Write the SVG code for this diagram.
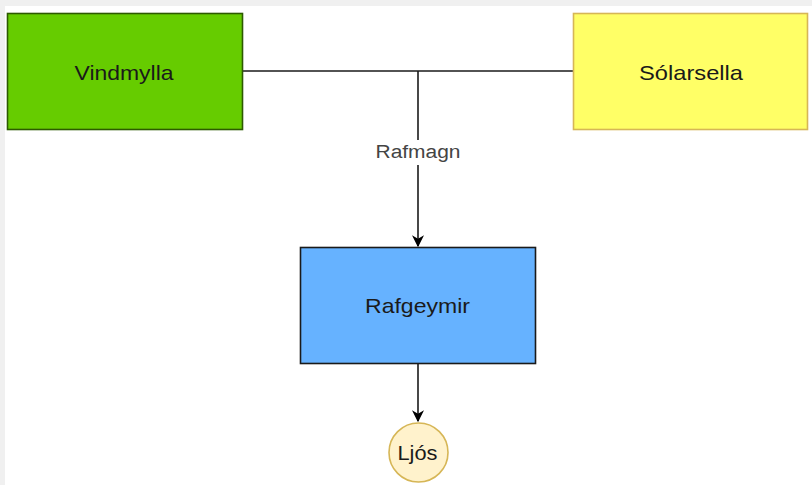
<svg xmlns="http://www.w3.org/2000/svg" width="812" height="485" viewBox="0 0 812 485">
  <style>
    .lbl { font-family: "Liberation Sans", Arial, sans-serif; font-size: 21px; text-anchor: middle; dominant-baseline: central; fill: #1a1a1a; }
    .edge { fill: none; stroke: #1a1a1a; stroke-width: 1.6; }
    .elbl { font-family: "Liberation Sans", Arial, sans-serif; font-size: 18px; text-anchor: middle; dominant-baseline: central; fill: #444444; }
  </style>
  <defs>
    <marker id="arrow" viewBox="0 0 10 10" refX="9" refY="5" markerWidth="13" markerHeight="12" markerUnits="userSpaceOnUse" orient="auto">
      <path d="M0,0 L10,5 L0,10 L3,5 Z" fill="#000000"/>
    </marker>
  </defs>
  <rect x="0" y="0" width="812" height="485" fill="#f0f0f0"/>
  <rect x="5" y="6" width="807" height="479" fill="#ffffff"/>

  <g id="connectors">
    <path class="edge" d="M243,71 L573,71"/>
    <path class="edge" d="M418,71 L418,140"/>
    <path class="edge" d="M418,165 L418,246" marker-end="url(#arrow)"/>
    <text class="elbl" x="418" y="152" textLength="85" lengthAdjust="spacingAndGlyphs">Rafmagn</text>
    <path class="edge" d="M418,364 L418,421" marker-end="url(#arrow)"/>
  </g>

  <g id="vindmylla">
    <rect x="7.5" y="13.5" width="235" height="116" fill="#66cc00" stroke="#2d5a00" stroke-width="1.6"/>
    <text class="lbl" x="124" y="72" textLength="99" lengthAdjust="spacingAndGlyphs">Vindmylla</text>
  </g>

  <g id="solarsella">
    <rect x="573.5" y="13.5" width="234" height="116" fill="#ffff66" stroke="#d6b656" stroke-width="1.6"/>
    <text class="lbl" x="691" y="72" textLength="104" lengthAdjust="spacingAndGlyphs">Sólarsella</text>
  </g>

  <g id="rafgeymir">
    <rect x="300.5" y="247.5" width="235" height="116" fill="#66b2ff" stroke="#1a1a1a" stroke-width="1.6"/>
    <text class="lbl" x="417.5" y="305" textLength="105" lengthAdjust="spacingAndGlyphs">Rafgeymir</text>
  </g>

  <g id="ljos">
    <circle cx="418.5" cy="452.5" r="29.5" fill="#fff2cc" stroke="#d6b656" stroke-width="1.6"/>
    <text class="lbl" x="417.5" y="452" textLength="40" lengthAdjust="spacingAndGlyphs">Ljós</text>
  </g>
</svg>
